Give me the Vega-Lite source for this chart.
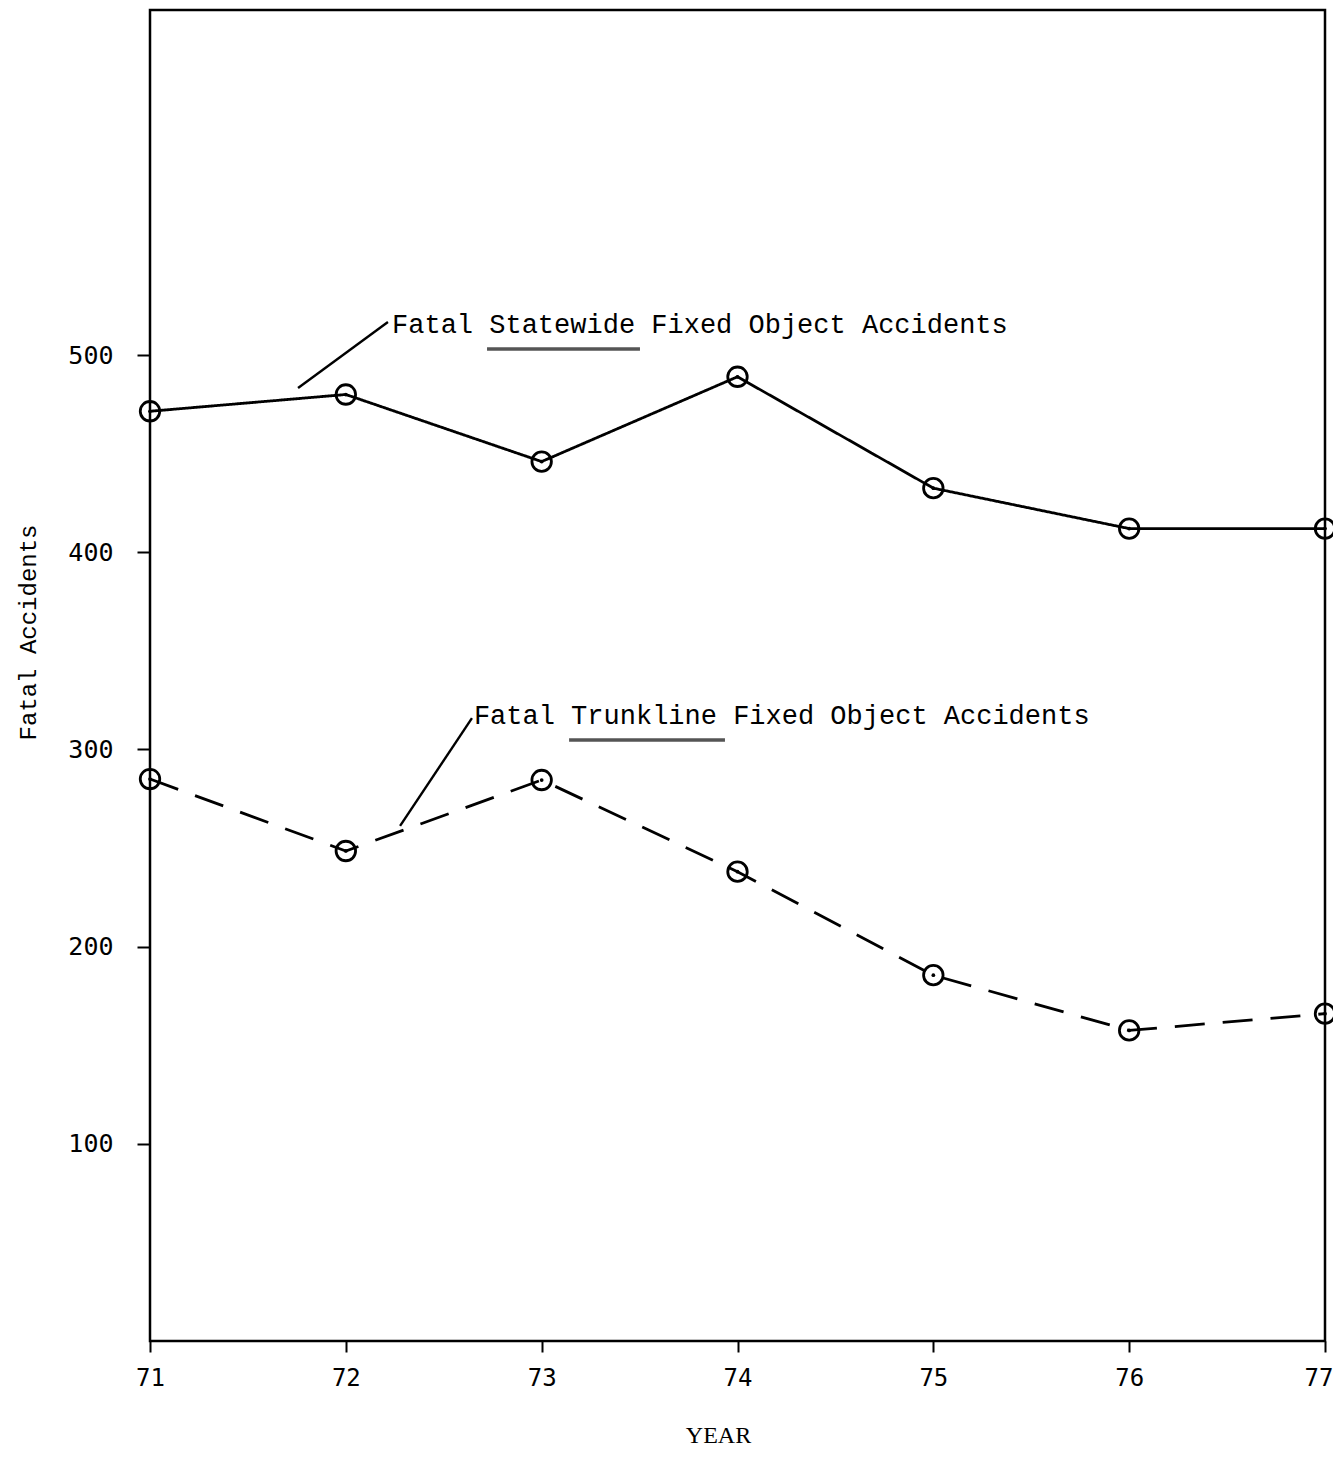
{
  "$schema": "https://vega.github.io/schema/vega-lite/v6.json",
  "autosize": {"type": "none"},
  "padding": {"left": 150, "top": 10, "right": 8, "bottom": 134},
  "width": 1175,
  "height": 1331,
  "background": "white",
  "config": {
    "view": {"stroke": "black", "strokeWidth": 2.5},
    "axis": {"grid": false, "domain": false, "tickColor": "black", "tickWidth": 2, "labelColor": "black", "titleColor": "black"}
  },
  "datasets": {
    "series": [
      {"year": 71, "value": 471.5, "series": "Statewide"},
      {"year": 72, "value": 480, "series": "Statewide"},
      {"year": 73, "value": 446, "series": "Statewide"},
      {"year": 74, "value": 489, "series": "Statewide"},
      {"year": 75, "value": 432.5, "series": "Statewide"},
      {"year": 76, "value": 412, "series": "Statewide"},
      {"year": 77, "value": 412, "series": "Statewide"},
      {"year": 71, "value": 285, "series": "Trunkline"},
      {"year": 72, "value": 248.5, "series": "Trunkline"},
      {"year": 73, "value": 284.5, "series": "Trunkline"},
      {"year": 74, "value": 238, "series": "Trunkline"},
      {"year": 75, "value": 185.5, "series": "Trunkline"},
      {"year": 76, "value": 157.5, "series": "Trunkline"},
      {"year": 77, "value": 166, "series": "Trunkline"}
    ],
    "notes": [
      {"x": 72.236, "y": 515.2, "label": "Fatal Statewide Fixed Object Accidents"},
      {"x": 72.654, "y": 316.9, "label": "Fatal Trunkline Fixed Object Accidents"}
    ],
    "leaders": [
      {"x": 71.756, "y": 483.3, "x2": 72.215, "y2": 516.8},
      {"x": 72.277, "y": 261.2, "x2": 72.644, "y2": 315.9}
    ],
    "underlines": [
      {"x": 72.721, "x2": 73.502, "y": 503.1},
      {"x": 73.14, "x2": 73.936, "y": 304.8}
    ]
  },
  "layer": [
    {
      "data": {"name": "series"},
      "mark": {"type": "line", "color": "black", "strokeWidth": 2.8},
      "encoding": {
        "x": {
          "field": "year", "type": "quantitative",
          "scale": {"domain": [71, 77], "nice": false, "zero": false},
          "axis": {
            "values": [71, 72, 73, 74, 75, 76, 77], "format": "d",
            "title": "YEAR", "titleFont": "Liberation Serif", "titleFontSize": 24, "titleFontWeight": "normal",
            "titleX": 568, "titleY": 94, "titleBaseline": "middle", "titleAlign": "center",
            "labelFont": "DejaVu Sans Mono", "labelFontSize": 24, "tickSize": 11, "labelPadding": 14, "labelFlush": false,
            "labelAlign": {"condition": {"test": "datum.value == 77", "value": "right"}, "value": "center"},
            "labelOffset": {"condition": {"test": "datum.value == 77", "value": 8}, "value": 0}
          }
        },
        "y": {
          "field": "value", "type": "quantitative",
          "scale": {"domain": [0, 675], "nice": false},
          "axis": {
            "values": [100, 200, 300, 400, 500],
            "title": "Fatal  Accidents", "titleFont": "Liberation Mono", "titleFontSize": 24, "titleFontWeight": "normal",
            "titleX": -122, "titleY": 622, "titleBaseline": "middle", "titleAlign": "center", "titleAngle": -90,
            "labelFont": "DejaVu Sans Mono", "labelFontSize": 25, "tickSize": 13, "labelPadding": 24
          }
        },
        "strokeDash": {
          "field": "series", "type": "nominal",
          "scale": {"domain": ["Statewide", "Trunkline"], "range": [[1, 0], [30, 18]]},
          "legend": null
        },
        "detail": {"field": "series"}
      }
    },
    {
      "data": {"name": "series"},
      "mark": {"type": "point", "shape": "circle", "filled": false, "color": "black", "strokeWidth": 2.8, "size": 380, "opacity": 1},
      "encoding": {
        "x": {"field": "year", "type": "quantitative"},
        "y": {"field": "value", "type": "quantitative"}
      }
    },
    {
      "data": {"name": "series"},
      "mark": {"type": "point", "shape": "circle", "filled": true, "color": "black", "size": 14, "opacity": 1},
      "encoding": {
        "x": {"field": "year", "type": "quantitative"},
        "y": {"field": "value", "type": "quantitative"}
      }
    },
    {
      "data": {"name": "leaders"},
      "mark": {"type": "rule", "color": "black", "strokeWidth": 2.4},
      "encoding": {
        "x": {"field": "x", "type": "quantitative"},
        "x2": {"field": "x2"},
        "y": {"field": "y", "type": "quantitative"},
        "y2": {"field": "y2"}
      }
    },
    {
      "data": {"name": "underlines"},
      "mark": {"type": "rule", "color": "#555555", "strokeWidth": 3.5},
      "encoding": {
        "x": {"field": "x", "type": "quantitative"},
        "x2": {"field": "x2"},
        "y": {"field": "y", "type": "quantitative"}
      }
    },
    {
      "data": {"name": "notes"},
      "mark": {"type": "text", "align": "left", "baseline": "middle", "font": "Liberation Mono", "fontSize": 27, "color": "black"},
      "encoding": {
        "x": {"field": "x", "type": "quantitative"},
        "y": {"field": "y", "type": "quantitative"},
        "text": {"field": "label"}
      }
    }
  ]
}
